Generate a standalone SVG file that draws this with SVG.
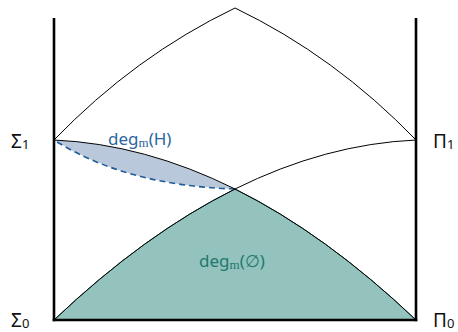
<svg xmlns="http://www.w3.org/2000/svg" width="458" height="332" viewBox="0 0 458 332">
<style>
.ax{stroke:#000;stroke-width:2.6;fill:none}
.cv{stroke:#000;stroke-width:1;fill:none}
.lbl{font-family:"Noto Sans","Open Sans",sans-serif;font-size:19px;fill:#111}
.sub{font-size:13px}
.deg{font-family:"Noto Sans","Open Sans",sans-serif;font-size:17px}
.ms{font-family:"Liberation Serif",serif;font-size:13px}
</style>
<rect width="458" height="332" fill="#fff"/>
<g id="region-empty">
<path d="M54,320 Q144.5,234 235,189 Q325.5,234 416,320 Z" fill="#94c2bd" stroke="#1c5f58" stroke-width="1"/>
</g>
<g id="region-H">
<path d="M54,140 Q144.5,144 235,189 Q125.5,185.5 54,140 Z" fill="#b9c9db" stroke="none"/>
<path d="M235,189 Q125.5,185.5 54,140" fill="none" stroke="#1f5c99" stroke-width="1.6" stroke-dasharray="6,4"/>
</g>
<g id="connectors">
<path class="cv" d="M54,140 Q135,56 235,8 Q335,56 416,140"/>
<path class="cv" d="M54,320 Q235,148 416,140"/>
<path class="cv" d="M54,140 Q235,148 416,320"/>
<line class="ax" x1="54" y1="18" x2="54" y2="321.3"/>
<line class="ax" x1="416" y1="18" x2="416" y2="321.3"/>
<line class="ax" x1="52.7" y1="320" x2="417.3" y2="320"/>
</g>
<g id="Sigma1"><text class="lbl" x="11" y="148">Σ<tspan class="sub" dy="1">1</tspan></text></g>
<g id="Sigma0"><text class="lbl" x="11" y="327">Σ<tspan class="sub" dy="1">0</tspan></text></g>
<g id="Pi1"><text class="lbl" x="433" y="148">Π<tspan class="sub" dy="1">1</tspan></text></g>
<g id="Pi0"><text class="lbl" x="433" y="327">Π<tspan class="sub" dy="1">0</tspan></text></g>
<g id="label-H"><text class="deg" x="108" y="145" fill="#2a67a0">deg<tspan class="ms" dy="2">m</tspan><tspan dy="-2">(H)</tspan></text></g>
<g id="label-empty"><text class="deg" x="199" y="267" fill="#1d7a6e">deg<tspan class="ms" dy="2">m</tspan><tspan dy="-2">(∅)</tspan></text></g>
</svg>
